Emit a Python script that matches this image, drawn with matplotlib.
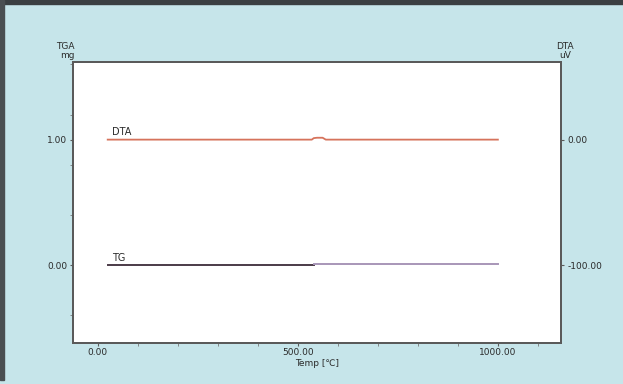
import numpy as np
import matplotlib.pyplot as plt
from matplotlib.patches import Rectangle

# values
temp_dta = [25, 535, 540, 548, 562, 570, 1000]
dta_uv = [0.0, 0.0, 1.2, 1.5, 1.5, 0.0, 0.0]

temp_tg_a = [25, 540]
tg_a = [0.0, 0.0]
temp_tg_b = [540, 1000]
tg_b = [0.005, 0.005]

x_ticks = [0, 500, 1000]
left_ticks = [0.0, 1.0]
right_ticks = [-100.0, 0.0]

bg = '#c6e5ea'
fig = plt.figure(figsize=(6.23, 3.84), dpi=100)
fig.patch.set_facecolor(bg)

# dark frame around the screenshot (top band and left edge)
fig.patches.append(Rectangle((0, 0.989), 1, 0.011, transform=fig.transFigure, color='#3a3f42', zorder=0))
fig.patches.append(Rectangle((0, 0.01), 0.0065, 0.99, transform=fig.transFigure, color='#4a4f52', zorder=0))

ax = fig.add_axes([0.117, 0.107, 0.783, 0.732])
ax.set_facecolor('white')
ax.set_xlim(-62, 1157)
ax.set_ylim(-0.62, 1.62)

ax.plot(temp_tg_a, tg_a, color='#4b3b48', lw=1.4)
ax.plot(temp_tg_b, tg_b, color='#a896b8', lw=1.4)

ax2 = ax.twinx()
ax2.set_ylim(-162, 62)
ax2.plot(temp_dta, dta_uv, color='#d6735c', lw=1.3)

ax.text(35, 1.04, 'DTA', fontsize=7, color='#2a2a2a')
ax.text(35, 0.03, 'TG', fontsize=7, color='#2a2a2a')

for a in (ax, ax2):
    for s in a.spines.values():
        s.set_color('#5a5a5a')
        s.set_linewidth(1.4)

ax.set_xticks(x_ticks)
ax.set_xticklabels([f'{v:.2f}' for v in x_ticks])
ax.set_xticks(np.arange(100, 1200, 100), minor=True)
ax.set_yticks(left_ticks)
ax.set_yticklabels([f'{v:.2f}' for v in left_ticks])
ax.set_yticks([-0.4, 0.4, 0.8, 1.2, 1.6], minor=True)
ax2.set_yticks(right_ticks)
ax2.set_yticklabels([f'{v:.2f}' for v in right_ticks])

ax.tick_params(axis='both', which='major', labelsize=6.5, length=2, color='#5a5a5a', pad=2, labelcolor='#2a2a2a')
ax.tick_params(axis='both', which='minor', length=2, color='#777777')
ax2.tick_params(axis='y', labelsize=6.5, length=2, color='#5a5a5a', pad=3, labelcolor='#2a2a2a')

ax.set_xlabel('Temp [℃]', fontsize=6.5, labelpad=1, color='#2a2a2a')

fig.text(0.120, 0.845, 'TGA\nmg', fontsize=6.5, ha='right', va='bottom', color='#2a2a2a', linespacing=1.0)
fig.text(0.907, 0.845, 'DTA\nuV', fontsize=6.5, ha='center', va='bottom', color='#2a2a2a', linespacing=1.0)

fig.savefig('out.png', dpi=100, facecolor=bg)
